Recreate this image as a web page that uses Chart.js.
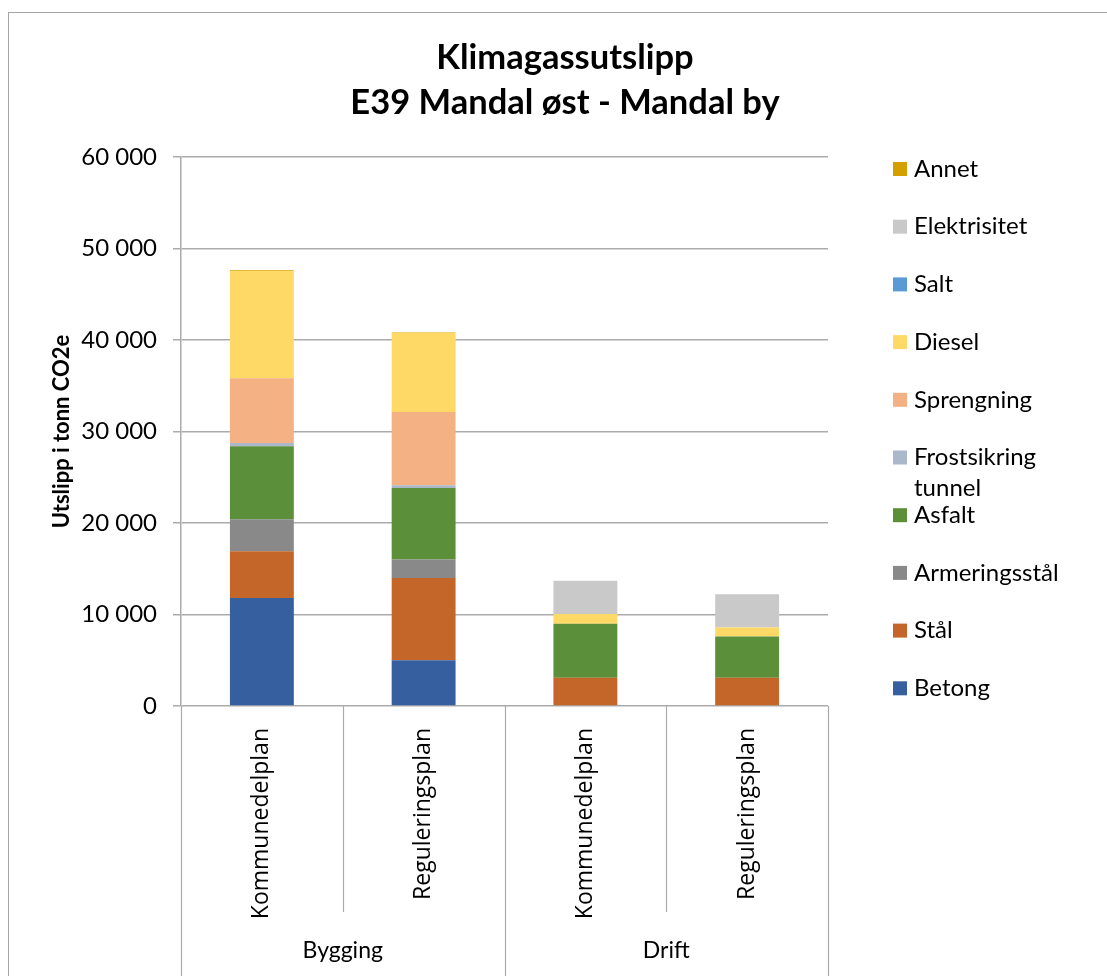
<!DOCTYPE html>
<html>
<head>
<meta charset="utf-8">
<script src="https://cdn.jsdelivr.net/npm/chart.js@4.4.1/dist/chart.umd.min.js"></script>
<style>
  html, body { margin: 0; padding: 0; background: #ffffff; overflow: hidden; width: 1107px; height: 976px; }
  #frame { position: absolute; left: 8px; top: 12px; width: 1140px; height: 1010px; border: 1px solid #A6A6A6; box-sizing: border-box; }
  #c { position: absolute; left: 9px; top: 13px; }
</style>
</head>
<body>
<div id="frame"></div>
<canvas id="c" width="1098" height="963"></canvas>
<script>
// ---- Data ----
const categories = ['Kommunedelplan', 'Reguleringsplan', 'Kommunedelplan', 'Reguleringsplan'];
const groups = ['Bygging', 'Drift'];
const groupSpan = [2, 2];
const yTickValues = [0, 10000, 20000, 30000, 40000, 50000, 60000];

const betong       = [11800, 5000, 0, 0];
const staal        = [5100, 9000, 3100, 3100];
const armering     = [3500, 2000, 0, 0];
const asfalt       = [8000, 7830, 5900, 4500];
const frostsikring = [330, 290, 0, 0];
const sprengning   = [7100, 8000, 0, 0];
const diesel       = [11700, 8680, 1050, 980];
const salt         = [0, 0, 0, 0];
const elektrisitet = [0, 0, 3650, 3640];
const annet        = [100, 60, 0, 0];

const seriesNames = ['Betong', 'Stål', 'Armeringsstål', 'Asfalt', 'Frostsikring tunnel', 'Sprengning', 'Diesel', 'Salt', 'Elektrisitet', 'Annet'];
const seriesData = [betong, staal, armering, asfalt, frostsikring, sprengning, diesel, salt, elektrisitet, annet];
const seriesColors = ['#365FA0', '#C4662A', '#898989', '#5B8F3A', '#ABB8CA', '#F4B183', '#FFD966', '#5B9BD5', '#C9C9C9', '#D4A000'];

const titleLines = ['Klimagassutslipp', 'E39 Mandal øst - Mandal by'];
const yTitle = 'Utslipp i tonn CO2e';

// ---- Helpers ----
const OFFX = 9, OFFY = 13; // canvas offset on the page
const GRID = '#ABABAB';
function fmt(v) { return String(v).replace(/\B(?=(\d{3})+(?!\d))/g, ' '); }

const datasets = seriesNames.map((n, i) => ({
  label: n,
  data: seriesData[i],
  backgroundColor: seriesColors[i],
  borderWidth: 0,
  barPercentage: 0.395,
  categoryPercentage: 1.0
}));

const decorPlugin = {
  id: 'decor',
  afterDraw(chart) {
    const ctx = chart.ctx;
    const area = chart.chartArea;
    const xs = chart.scales.x;
    ctx.save();

    // Title
    ctx.fillStyle = '#000';
    ctx.font = 'bold 34.5px Lato';
    ctx.textAlign = 'center';
    ctx.textBaseline = 'middle';
    ctx.fillText(titleLines[0], 565 - OFFX, 58 - OFFY);
    ctx.fillText(titleLines[1], 565 - OFFX, 103 - OFFY);

    // Category separators under the axis
    const n = categories.length;
    const bounds = [];
    for (let i = 0; i <= n; i++) {
      if (i === 0) bounds.push(area.left);
      else if (i === n) bounds.push(area.right);
      else bounds.push((xs.getPixelForValue(i - 1) + xs.getPixelForValue(i)) / 2);
    }
    const groupEdges = [0];
    groupSpan.reduce((a, s) => { groupEdges.push(a + s); return a + s; }, 0);
    ctx.strokeStyle = GRID;
    ctx.lineWidth = 1.2;
    for (let i = 0; i <= n; i++) {
      const isGroupEdge = groupEdges.includes(i);
      const x = Math.round(bounds[i]) + 0.5;
      ctx.beginPath();
      ctx.moveTo(x, area.bottom);
      ctx.lineTo(x, isGroupEdge ? chart.height + 5 : 912 - OFFY);
      ctx.stroke();
    }

    // Group labels
    ctx.font = '23px Lato';
    ctx.fillStyle = '#000';
    ctx.textAlign = 'center';
    ctx.textBaseline = 'middle';
    groups.forEach((g, gi) => {
      const x0 = bounds[groupEdges[gi]], x1 = bounds[groupEdges[gi + 1]];
      ctx.fillText(g, (x0 + x1) / 2, 951 - OFFY);
    });

    // Legend (reverse order, like the reference)
    ctx.font = '24px Lato';
    ctx.textAlign = 'left';
    ctx.textBaseline = 'middle';
    const items = chart.data.datasets.map((d, i) => ({ label: d.label, color: d.backgroundColor })).reverse();
    items.forEach((it, k) => {
      const cy = 169 + k * 57.7 - OFFY;
      ctx.fillStyle = it.color;
      ctx.fillRect(893 - OFFX, cy - 7, 14, 14);
      ctx.fillStyle = '#000';
      const words = it.label.split(' ');
      const lines = [];
      let cur = '';
      words.forEach(w => {
        const t = cur ? cur + ' ' + w : w;
        if (ctx.measureText(t).width > 175 && cur) { lines.push(cur); cur = w; } else cur = t;
      });
      lines.push(cur);
      lines.forEach((ln, li) => ctx.fillText(ln, 914 - OFFX, cy + li * 31));
    });
    ctx.restore();
  }
};

Chart.defaults.font.family = 'Lato';
Chart.defaults.color = '#000';

new Chart(document.getElementById('c'), {
  type: 'bar',
  data: { labels: categories, datasets },
  options: {
    responsive: false,
    animation: false,
    events: [],
    layout: { padding: { top: 144, left: 0, right: 279, bottom: 0 } },
    plugins: { legend: { display: false }, title: { display: false }, tooltip: { enabled: false } },
    scales: {
      x: {
        stacked: true,
        offset: true,
        grid: { display: false },
        border: { display: false },
        ticks: {
          minRotation: 90, maxRotation: 90, autoSkip: false, padding: 14,
          font: { family: 'Open Sans', size: 23 }, color: '#000'
        },
        afterFit(s) { s.height = 270; }
      },
      y: {
        stacked: true,
        min: 0, max: 60000,
        afterBuildTicks(s) { s.ticks = yTickValues.map(v => ({ value: v })); },
        grid: { color: GRID, lineWidth: 1.5, tickLength: 8, drawTicks: true },
        border: { display: true, color: GRID, width: 1.5 },
        ticks: { padding: 16, font: { family: 'Lato', size: 24 }, color: '#000', callback: v => fmt(v) },
        title: { display: true, text: yTitle, font: { family: 'Lato', size: 22, weight: 'bold' }, color: '#000', padding: { top: 40, bottom: 0 } },
        afterFit(s) { s.width = 172; }
      }
    }
  },
  plugins: [decorPlugin]
});
</script>
</body>
</html>
